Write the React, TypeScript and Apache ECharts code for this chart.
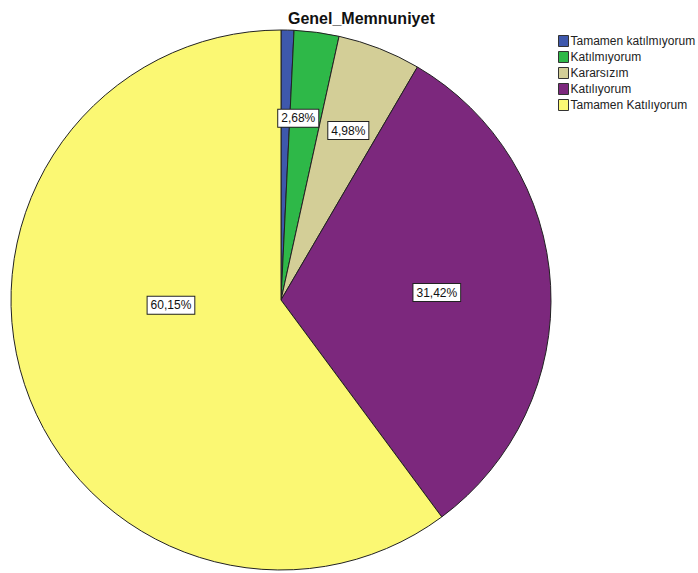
import React, { useEffect, useRef } from "react";
import * as echarts from "echarts";

const title = "Genel_Memnuniyet";
const categories = [
  "Tamamen katılmıyorum",
  "Katılmıyorum",
  "Kararsızım",
  "Katılıyorum",
  "Tamamen Katılıyorum",
];
const percents = [0.77, 2.68, 4.98, 31.42, 60.15];
const colors = ["#3E58AC", "#2EB848", "#D3CE97", "#7C287D", "#FBF873"];
const showLabel = [false, true, true, true, true];
const labelShift: [number, number][] = [
  [0, 0],
  [-1, -45],
  [17, -41],
  [18, 0],
  [21, -38],
];

export default function App() {
  const ref = useRef<HTMLDivElement>(null);
  useEffect(() => {
    if (!ref.current) return;
    const chart = echarts.init(ref.current, null, { renderer: "svg" });
    chart.setOption({
      animation: false,
      backgroundColor: "#ffffff",
      title: {
        text: title,
        left: 283,
        top: 5,
        textStyle: {
          fontFamily: "Liberation Sans, Arial, sans-serif",
          fontSize: 16,
          fontWeight: "bold",
          color: "#111",
        },
      },
      legend: {
        orient: "vertical",
        left: 553,
        top: 30,
        itemWidth: 10,
        itemHeight: 11,
        itemGap: 4,
        icon: "rect",
        data: categories,
        itemStyle: { borderColor: "#333", borderWidth: 1 },
        textStyle: {
          fontFamily: "Liberation Sans, Arial, sans-serif",
          fontSize: 12,
          color: "#222",
          padding: [0, 0, 0, -3],
        },
      },
      series: [
        {
          type: "pie",
          center: [281, 300],
          radius: 270,
          startAngle: 90,
          clockwise: true,
          avoidLabelOverlap: false,
          itemStyle: { borderColor: "#222", borderWidth: 1 },
          emphasis: { disabled: true },
          label: {
            show: true,
            position: "inside",
            formatter: (p: any) => p.value.toFixed(2).replace(".", ",") + "%",
            fontFamily: "Liberation Sans, Arial, sans-serif",
            fontSize: 12,
            color: "#111",
            backgroundColor: "#fff",
            borderColor: "#222",
            borderWidth: 1,
            padding: [3, 3, 2, 3],
          },
          labelLayout: (params: any) => {
            const s = labelShift[params.dataIndex];
            return { dx: s[0], dy: s[1] };
          },
          data: categories.map((c, i) => ({
            name: c,
            value: percents[i],
            itemStyle: { color: colors[i] },
            label: { show: showLabel[i] },
          })),
        },
      ],
    });
    return () => chart.dispose();
  }, []);
  return (
    <div
      ref={ref}
      style={{ position: "fixed", left: 0, top: 0, width: 698, height: 573 }}
    />
  );
}
